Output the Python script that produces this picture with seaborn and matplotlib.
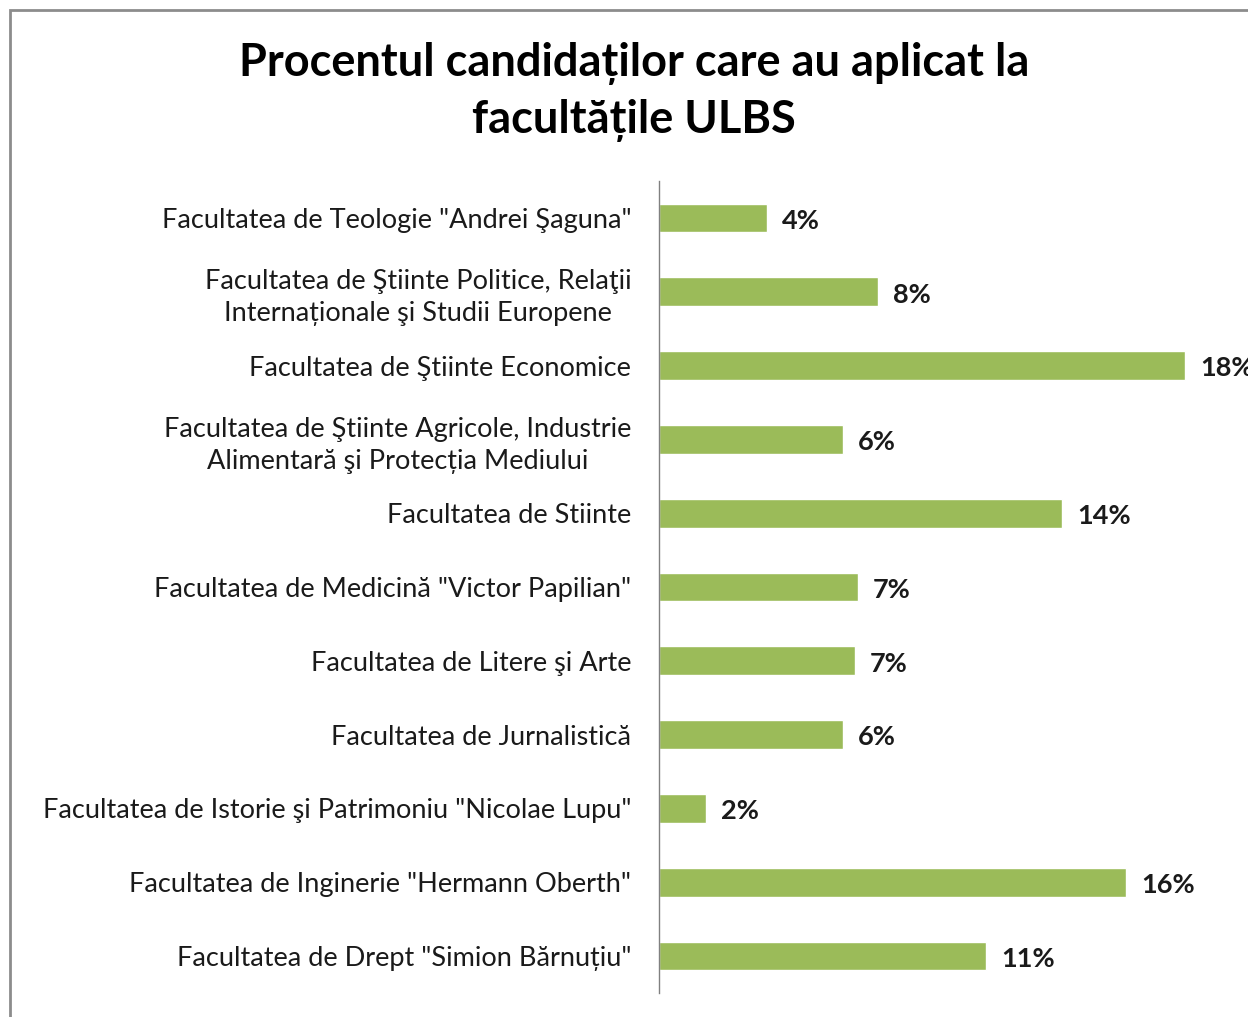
import matplotlib
matplotlib.use("Agg")
import matplotlib.pyplot as plt
import seaborn as sns
import pandas as pd
from matplotlib.patches import Rectangle

# date
facultati = [
    'Facultatea de Teologie "Andrei Şaguna"',
    'Facultatea de Ştiinte Politice, Relaţii\nInternaționale şi Studii Europene',
    'Facultatea de Ştiinte Economice',
    'Facultatea de Ştiinte Agricole, Industrie\nAlimentară şi Protecția Mediului',
    'Facultatea de Stiinte',
    'Facultatea de Medicină "Victor Papilian"',
    'Facultatea de Litere şi Arte',
    'Facultatea de Jurnalistică',
    'Facultatea de Istorie şi Patrimoniu "Nicolae Lupu"',
    'Facultatea de Inginerie "Hermann Oberth"',
    'Facultatea de Drept "Simion Bărnuțiu"',
]
procente = [3.7, 7.5, 18.0, 6.3, 13.8, 6.8, 6.7, 6.3, 1.6, 16.0, 11.2]
etichete = ["4%", "8%", "18%", "6%", "14%", "7%", "7%", "6%", "2%", "16%", "11%"]

sns.set_theme(style="white")
plt.rcParams['font.family'] = ['Lato', 'DejaVu Sans']

df = pd.DataFrame({"facultate": facultati, "procent": procente})

W, H = 1248, 1017
fig = plt.figure(figsize=(W / 100, H / 100), dpi=100)
ax = fig.add_axes([659 / W, 1 - 993 / H, (W - 659) / W, (993 - 181) / H])

sns.barplot(data=df, y="facultate", x="procent", color="#9BBB59",
            width=0.39, saturation=1, ax=ax, orient="h")

ax.set_xlim(0, (W - 659) / 29.2)
ax.set_ylim(len(facultati) - 0.5, -0.5)
ax.set_xlabel("")
ax.set_ylabel("")
ax.set_xticks([])
for s in ["top", "right", "bottom"]:
    ax.spines[s].set_visible(False)
ax.spines["left"].set_color("#808080")
ax.spines["left"].set_linewidth(1.0)
ax.tick_params(axis="y", length=0, pad=20)
for lbl in ax.get_yticklabels():
    lbl.set_fontsize(19.5)
    lbl.set_multialignment("center")
    lbl.set_linespacing(1.35)
    lbl.set_color("#1a1a1a")

for i, (v, t) in enumerate(zip(procente, etichete)):
    ax.annotate(t, (v, i), xytext=(11, -2), textcoords="offset points",
                va="center", ha="left", fontsize=19.5, fontweight="bold",
                color="#1a1a1a", annotation_clip=False)

fig.text(634 / W, 1 - 92 / H, "Procentul candidaților care au aplicat la\nfacultățile ULBS",
         ha="center", va="center", fontsize=32.5, fontweight="bold",
         linespacing=1.42, color="black")

# chenar
fig.patches.append(Rectangle((10 / W, -0.1), 1.2, 1 - 10 / H + 0.1,
                             transform=fig.transFigure, fill=False,
                             edgecolor="#8c8c8c", linewidth=2.0))

fig.savefig("out.png", dpi=100)
